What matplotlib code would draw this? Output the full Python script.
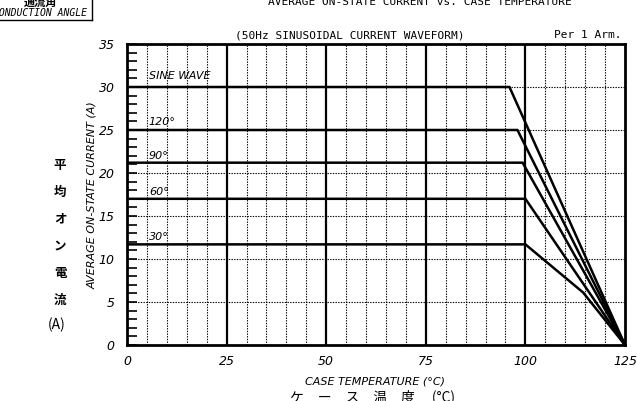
import matplotlib
matplotlib.use("Agg")
import matplotlib.pyplot as plt
from matplotlib.ticker import MultipleLocator

# data
curve_names = ["SINE WAVE", "120°", "90°", "60°", "30°"]
curve_T = [
    [0, 96, 125],
    [0, 98, 125],
    [0, 99.3, 125],
    [0, 100, 125],
    [0, 100, 114.5, 125],
]
curve_I = [
    [30, 30, 0],
    [25, 25, 0],
    [21.2, 21.2, 0],
    [17.0, 17.0, 0],
    [11.7, 11.7, 6.1, 0],
]
label_pos_I = [31.3, 25.9, 22.0, 17.8, 12.6]
x_ticks = [0, 25, 50, 75, 100, 125]
y_ticks = [0, 5, 10, 15, 20, 25, 30, 35]

W, H = 637, 401
fig = plt.figure(figsize=(W / 100, H / 100), dpi=100)
ax = fig.add_axes([127 / W, (H - 345) / H, 498 / W, 301 / H])

ax.set_xlim(0, 125)
ax.set_ylim(0, 35)

# minor dashed grid
for t in range(5, 125, 5):
    if t % 25:
        ax.axvline(t, color="black", lw=0.8, ls=(0, (1.2, 1.2)), zorder=1)
for yv in range(5, 35, 5):
    ax.axhline(yv, color="black", lw=0.8, ls=(0, (1.2, 1.2)), zorder=1)
for t in (25, 50, 75, 100):
    ax.axvline(t, color="black", lw=1.6, zorder=2)

for T, I in zip(curve_T, curve_I):
    ax.plot(T, I, color="black", lw=1.8, zorder=3, solid_joinstyle="miter")

for name, yl in zip(curve_names, label_pos_I):
    ax.text(5.5, yl, name, ha="left", va="center", family="DejaVu Sans",
            style="italic", fontsize=8, zorder=4)

for s in ax.spines.values():
    s.set_linewidth(2)

ax.set_xticks(x_ticks)
ax.set_yticks(y_ticks)
ax.yaxis.set_minor_locator(MultipleLocator(1))
ax.tick_params(axis="y", which="both", direction="in", length=7, width=1.2, pad=9)
ax.tick_params(axis="x", which="both", length=0, pad=7)
for lab in ax.get_xticklabels() + ax.get_yticklabels():
    lab.set_fontstyle("italic")
    lab.set_fontsize(9)

# axis titles
fig.text(92 / W, 1 - 195 / H, "AVERAGE ON-STATE CURRENT (A)", rotation=90,
         ha="center", va="center", family="DejaVu Sans", style="italic", fontsize=8)
jp_chars = ["平", "均", "オ", "ン", "電", "流"]
for k, ch in enumerate(jp_chars):
    fig.text(60 / W, 1 - (165 + k * 27) / H, ch, ha="center", va="center",
             family=["Noto Sans CJK JP", "DejaVu Sans"], fontsize=9, fontweight="bold")
fig.text(57 / W, 1 - 325 / H, "(A)", ha="center", va="center",
         family=["Noto Sans CJK JP", "DejaVu Sans"], fontsize=10)

fig.text(375 / W, 1 - 381 / H, "CASE TEMPERATURE (°C)", ha="center", va="center",
         family="DejaVu Sans", style="italic", fontsize=8)
fig.text(372 / W, 1 - 397 / H, "ケ　ー　ス　温　度　 (°C)", ha="center", va="center",
         family=["Noto Sans CJK JP", "DejaVu Sans"], fontsize=10)

fig.text(350 / W, 1 - 35 / H, "(50Hz SINUSOIDAL CURRENT WAVEFORM)", ha="center", va="center",
         family="DejaVu Sans Mono", fontsize=8)
fig.text(622 / W, 1 - 35 / H, "Per 1 Arm.", ha="right", va="center",
         family="DejaVu Sans Mono", fontsize=8)
fig.text(420 / W, 1 - 2 / H, "AVERAGE ON-STATE CURRENT vs. CASE TEMPERATURE", ha="center",
         va="center", family="DejaVu Sans Mono", fontsize=8)

# conduction angle box (cut at top)
fig.text(40 / W, 1 - 2 / H, "通流角", ha="center", va="center",
         family=["Noto Sans CJK JP", "DejaVu Sans"], fontsize=8, fontweight="bold")
fig.text(40 / W, 1 - 13 / H, "CONDUCTION ANGLE", ha="center", va="center",
         family="DejaVu Sans Mono", style="italic", fontsize=7)
fig.add_artist(plt.Line2D([0, 92 / W], [1 - 20 / H, 1 - 20 / H], color="black", lw=1))
fig.add_artist(plt.Line2D([92 / W, 92 / W], [1 - 20 / H, 1], color="black", lw=1))

fig.savefig("out.png", dpi=100)
